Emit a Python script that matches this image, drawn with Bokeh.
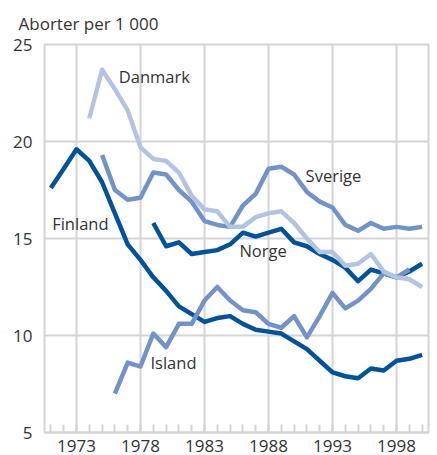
from bokeh.plotting import figure
from bokeh.models import FixedTicker, Label, Range1d
from bokeh.embed import file_html
from bokeh.resources import INLINE

# ---- data ----
years_finland = list(range(1971, 2001))
finland = [17.6, 18.6, 19.6, 19.0, 17.9, 16.3, 14.7, 13.9, 13.0, 12.3,
           11.5, 11.1, 10.7, 10.9, 11.0, 10.6, 10.3, 10.2, 10.1, 9.7,
           9.3, 8.7, 8.1, 7.9, 7.8, 8.3, 8.2, 8.7, 8.8, 9.0]

years_norge = list(range(1979, 2001))
norge = [15.8, 14.6, 14.8, 14.2, 14.3, 14.4, 14.7, 15.3, 15.1, 15.3, 15.5,
         14.8, 14.6, 14.2, 13.9, 13.5, 12.8, 13.4, 13.2, 13.0, 13.3, 13.7]

years_sverige = list(range(1975, 2001))
sverige = [19.3, 17.5, 17.0, 17.1, 18.4, 18.3, 17.5, 16.9, 15.9, 15.7, 15.6,
           16.7, 17.3, 18.6, 18.7, 18.3, 17.4, 16.9, 16.6, 15.7, 15.4, 15.8,
           15.5, 15.6, 15.5, 15.6]

years_island = list(range(1976, 2000))
island = [7.0, 8.6, 8.4, 10.1, 9.4, 10.6, 10.6, 11.8, 12.5, 11.8, 11.3, 11.2,
          10.6, 10.4, 11.0, 9.9, 11.0, 12.2, 11.4, 11.8, 12.4, 13.2, 13.0, 13.4]

years_danmark = list(range(1974, 2001))
danmark = [21.2, 23.7, 22.7, 21.6, 19.7, 19.1, 19.0, 18.4, 17.2, 16.5, 16.4,
           15.6, 15.6, 16.1, 16.3, 16.4, 15.8, 15.0, 14.3, 14.3, 13.6, 13.7,
           14.2, 13.3, 13.0, 12.9, 12.5]

x_major_ticks = [1973, 1978, 1983, 1988, 1993, 1998]
x_minor_ticks = list(range(1971, 2001))
y_ticks = [5, 10, 15, 20, 25]
title_text = "Aborter per 1 000"

# ---- style ----
DARK = "#00539b"
MID = "#7293c8"
LIGHT = "#b3c3e2"
GRID = "#d4d4d4"
TXT = "#333333"
FONT = "Open Sans"
FS = "17px"

p = figure(width=437, height=455, output_backend="svg", toolbar_location=None,
           x_range=Range1d(1970.5, 2000.5), y_range=Range1d(5, 25),
           min_border_left=44, min_border_right=9, min_border_top=43,
           min_border_bottom=23)

p.title.text = title_text
p.title.align = "left"
p.title.offset = -26
p.title.standoff = 19
p.title.text_font = FONT
p.title.text_font_size = FS
p.title.text_font_style = "normal"
p.title.text_color = TXT

p.outline_line_color = GRID
p.outline_line_width = 2
p.background_fill_color = "white"
p.border_fill_color = "white"

p.xaxis.ticker = FixedTicker(ticks=x_major_ticks, minor_ticks=x_minor_ticks)
p.xaxis.axis_line_color = GRID
p.xaxis.axis_line_width = 2
p.xaxis.major_tick_line_color = None
p.xaxis.minor_tick_line_color = GRID
p.xaxis.minor_tick_line_width = 2
p.xaxis.minor_tick_in = 8
p.xaxis.minor_tick_out = 0
p.xaxis.major_label_standoff = 1

p.yaxis.ticker = FixedTicker(ticks=y_ticks)
p.yaxis.axis_line_color = None
p.yaxis.major_tick_line_color = None
p.yaxis.minor_tick_line_color = None
p.yaxis.major_label_standoff = 6

for ax in (p.xaxis, p.yaxis):
    ax.major_label_text_font = FONT
    ax.major_label_text_font_size = FS
    ax.major_label_text_color = TXT

p.xgrid.grid_line_color = GRID
p.xgrid.grid_line_width = 2
p.ygrid.grid_line_color = GRID
p.ygrid.grid_line_width = 2

LW = 4.5
p.line(years_finland, finland, line_color=DARK, line_width=LW, line_join="round")
p.line(years_norge, norge, line_color=DARK, line_width=LW, line_join="round")
p.line(years_sverige, sverige, line_color=MID, line_width=LW, line_join="round")
p.line(years_island, island, line_color=MID, line_width=LW, line_join="round")
p.line(years_danmark, danmark, line_color=LIGHT, line_width=LW, line_join="round")

labels = [("Danmark", 1976.3, 23.37), ("Sverige", 1990.9, 18.27),
          ("Finland", 1971.1, 15.75), ("Norge", 1985.73, 14.36),
          ("Island", 1978.78, 8.59)]
for t, lx, ly in labels:
    p.add_layout(Label(x=lx, y=ly, text=t, text_font=FONT, text_font_size="16.5px",
                       text_color=TXT, text_baseline="middle", text_align="left"))

open("out.html", "w").write(file_html(p, INLINE))
